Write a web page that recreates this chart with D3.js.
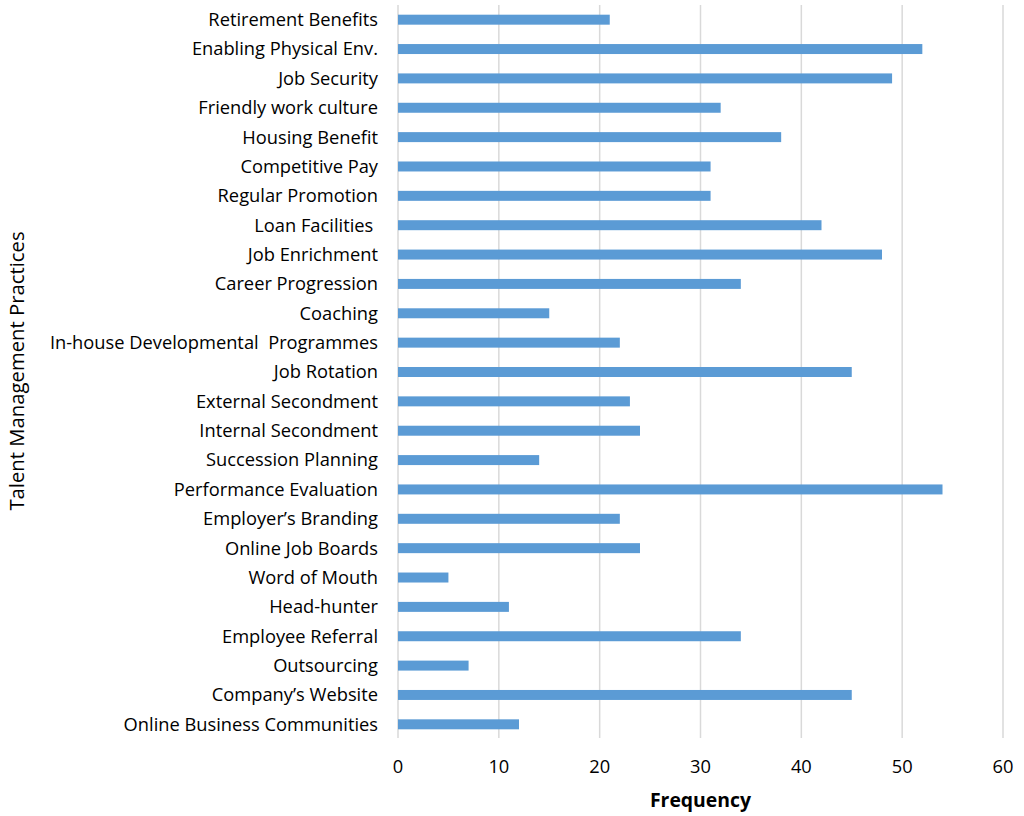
<!DOCTYPE html>
<html>
<head>
<meta charset="utf-8">
<script src="https://cdn.jsdelivr.net/npm/d3@7"></script>
<style>
  body { margin: 0; background: #fff; }
  svg { display: block; }
  text { font-family: "Open Sans", sans-serif; fill: #000; }
</style>
</head>
<body>
<svg id="chart" width="1024" height="816"></svg>
<script>
const categories = [
  "Retirement Benefits",
  "Enabling Physical Env.",
  "Job Security",
  "Friendly work culture",
  "Housing Benefit",
  "Competitive Pay",
  "Regular Promotion",
  "Loan Facilities ",
  "Job Enrichment",
  "Career Progression",
  "Coaching",
  "In-house Developmental  Programmes",
  "Job Rotation",
  "External Secondment",
  "Internal Secondment",
  "Succession Planning",
  "Performance Evaluation",
  "Employer\u2019s Branding",
  "Online Job Boards",
  "Word of Mouth",
  "Head-hunter",
  "Employee Referral",
  "Outsourcing",
  "Company\u2019s Website",
  "Online Business Communities"
];
const frequency = [21, 52, 49, 32, 38, 31, 31, 42, 48, 34, 15, 22, 45, 23, 24, 14, 54, 22, 24, 5, 11, 34, 7, 45, 12];
const xTicks = [0, 10, 20, 30, 40, 50, 60];
const xTitle = "Frequency";
const yTitle = "Talent Management Practices";

const svg = d3.select("#chart");
const mLeft = 398, mRight = 1003, mTop = 5, mBottom = 739;

const x = d3.scaleLinear().domain([0, 60]).range([mLeft, mRight]);
const y = d3.scaleBand().domain(categories).range([mTop, mBottom]).paddingInner(0.66).paddingOuter(0.33);

// gridlines
svg.append("g").selectAll("line").data(xTicks).join("line")
  .attr("x1", d => x(d)).attr("x2", d => x(d))
  .attr("y1", mTop).attr("y2", mBottom - 1)
  .attr("stroke", "#d9d9d9").attr("stroke-width", 1.5);

// bars
svg.append("g").selectAll("rect").data(categories).join("rect")
  .attr("x", x(0))
  .attr("y", d => y(d))
  .attr("width", (d, i) => x(frequency[i]) - x(0))
  .attr("height", y.bandwidth())
  .attr("fill", "#5b9bd5");

// y labels
svg.append("g").selectAll("text").data(categories).join("text")
  .attr("x", mLeft - 20)
  .attr("y", d => y(d) + y.bandwidth() / 2)
  .attr("dy", "0.35em")
  .attr("text-anchor", "end")
  .attr("font-size", 18.3)
  .style("white-space", "pre")
  .text(d => d);

// x tick labels
svg.append("g").selectAll("text").data(xTicks).join("text")
  .attr("x", d => x(d))
  .attr("y", 773)
  .attr("text-anchor", "middle")
  .attr("font-size", 18.3)
  .text(d => d);

// x title
svg.append("text")
  .attr("x", (mLeft + mRight) / 2)
  .attr("y", 807)
  .attr("text-anchor", "middle")
  .attr("font-size", 19.4)
  .attr("font-weight", "bold")
  .text(xTitle);

// y title
svg.append("text")
  .attr("transform", `translate(24, 371) rotate(-90)`)
  .attr("text-anchor", "middle")
  .attr("font-size", 20.3)
  .text(yTitle);
</script>
</body>
</html>
